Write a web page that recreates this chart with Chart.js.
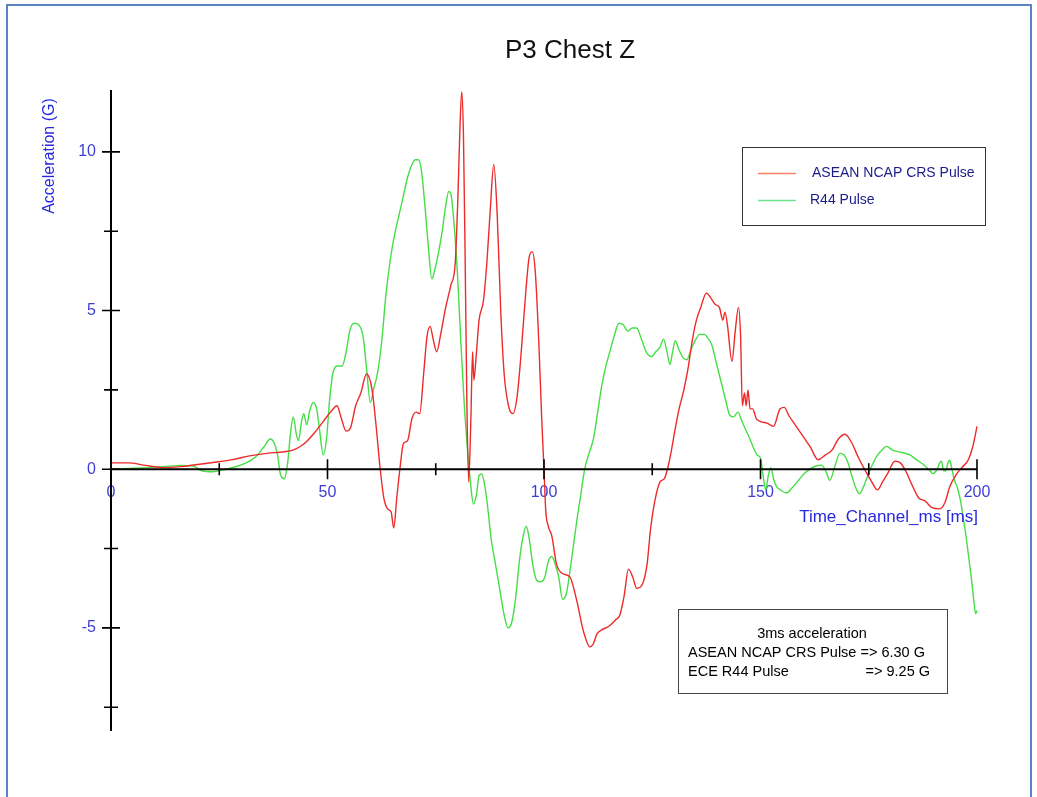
<!DOCTYPE html>
<html>
<head>
<meta charset="utf-8">
<title>P3 Chest Z</title>
<script src="https://cdn.jsdelivr.net/npm/chart.js@4/dist/chart.umd.min.js"></script>
<style>
  html, body { margin: 0; padding: 0; background: #ffffff; }
  canvas { display: block; }
</style>
</head>
<body>
<canvas id="chart" width="1037" height="797"></canvas>
<script>
// ASEAN NCAP CRS pulse, chest Z acceleration (G) against time (ms)
const aseanTime = [0, 4, 8, 12, 16, 20, 24, 28, 32, 36, 40, 42, 43.5, 45, 47, 49, 51, 52.2, 53.2, 54.3,
  55.3, 56.5, 57.7, 59.0, 60.3, 61.2, 62.1, 63.0, 63.9, 64.7, 65.3, 66.0, 66.8, 67.5, 68.5, 69.5,
  70.5, 71.3, 72.2, 73.0, 73.7, 74.4, 75.2, 76.2, 77.3, 78.5, 79.5, 80.1, 80.6, 81.0, 81.4, 81.8,
  82.2, 82.6, 83.1, 83.5, 83.8, 84.3, 85.0, 86.0, 86.8, 87.6, 88.4, 89.2, 90.0, 90.8, 91.8, 92.8,
  93.8, 94.8, 95.8, 96.6, 97.3, 98.0, 98.8, 99.5, 100.0, 100.4, 101.0, 101.8, 102.9, 104.5, 106.0,
  107.5, 109.1, 110.6, 111.4, 112.2, 113.5, 115.0, 116.5, 117.5, 118.5, 119.5, 120.5, 121.4, 122.8,
  123.8, 124.6, 125.6, 126.8, 127.8, 128.5, 129.3, 130.2, 131.2, 132.3, 133.3, 134.3, 135.2, 136.2,
  137.5, 138.5, 139.5, 140.5, 141.3, 141.8, 142.4, 143.4, 144.2, 144.9, 145.4, 145.8, 146.3, 146.7,
  147.1, 147.6, 148.2, 149.0, 150.0, 151.5, 153.0, 154.5, 155.5, 156.5, 158.0, 160.0, 161.5, 163.3,
  165.0, 166.5, 168.0, 169.5, 171.0, 172.5, 174.0, 175.5, 177.0, 178.2, 179.5, 181.0, 182.3, 183.7,
  185.0, 186.5, 188.0, 189.5, 191.4, 192.6, 193.7, 195.3, 196.5, 198.0, 199.0, 200.0];
const aseanAccel = [0.2, 0.2, 0.12, 0.05, 0.08, 0.15, 0.22, 0.3, 0.42, 0.5, 0.55, 0.6, 0.7, 0.85, 1.15, 1.5, 1.85, 2.0, 1.6, 1.2,
  1.3, 2.0, 2.4, 3.0, 2.5, 1.4, 0.1, -0.9, -1.25, -1.35, -1.85, -0.9, 0.1, 0.8, 0.9, 1.6,
  1.8, 1.75, 3.0, 4.2, 4.5, 4.1, 3.7, 4.3, 5.1, 5.8, 6.5, 8.5, 10.8, 11.9, 10.5, 6.5,
  2.0, -0.4, 1.5, 3.7, 2.8, 3.5, 4.7, 5.3, 6.5, 8.2, 9.6, 8.0, 5.0, 3.0, 2.0, 1.75,
  2.3, 3.8, 5.6, 6.7, 6.85, 6.2, 4.0, 1.5, 0.0, -1.3, -1.8, -2.1, -3.0, -3.3, -3.4,
  -4.1, -5.1, -5.6, -5.5, -5.2, -5.05, -4.95, -4.75, -4.6, -4.0, -3.15, -3.4, -3.75, -3.6,
  -3.0, -1.9, -1.0, -0.4, -0.3, 0.0, 0.5, 1.2, 1.9, 2.5, 3.2, 4.1, 4.7, 5.1,
  5.55, 5.4, 5.2, 5.1, 4.7, 4.95, 4.5, 3.4, 4.4, 5.1, 4.2, 2.0, 2.4, 2.0,
  2.5, 1.9, 1.9, 1.6, 1.5, 1.45, 1.35, 1.9, 1.95, 1.7, 1.4, 1.0, 0.7, 0.3,
  0.45, 0.6, 0.95, 1.1, 0.85, 0.4, 0.0, -0.35, -0.65, -0.4, -0.1, 0.25, 0.2, -0.1,
  -0.5, -0.9, -1.0, -1.2, -1.25, -1.05, -0.55, -0.15, 0.05, 0.3, 0.7, 1.35];

// ECE R44 pulse, chest Z acceleration (G) against time (ms)
const r44Time = [0, 4, 8, 12, 16, 19, 21, 23.5, 26, 28.5, 31, 33.5, 35.3, 36.8, 37.6, 38.4, 39.2, 40.0, 40.8, 41.5,
  42.1, 42.8, 43.3, 44.0, 44.5, 45.2, 45.9, 46.7, 47.5, 48.2, 49.0, 49.8, 50.5, 51.2, 52.2, 53.4,
  54.3, 55.2, 56.2, 57.2, 58.2, 59.0, 59.9, 60.6, 61.5, 62.5, 63.5, 64.5, 65.5, 66.5, 67.5, 68.5,
  69.5, 70.3, 71.0, 71.7, 72.5, 73.3, 74.1, 74.8, 75.6, 76.5, 77.3, 78.0, 78.6, 79.3, 80.0, 80.8,
  81.6, 82.4, 83.0, 83.7, 84.4, 85.0, 85.6, 86.3, 87.0, 87.8, 88.8, 89.8, 90.8, 91.7, 92.6, 93.5,
  94.4, 95.2, 95.9, 96.6, 97.4, 98.3, 99.2, 100.2, 101.0, 101.8, 102.6, 103.4, 104.3, 105.2, 106.0,
  106.8, 107.6, 108.5, 109.4, 110.4, 111.4, 112.4, 113.3, 114.2, 115.2, 116.2, 117.3, 118.3, 119.4,
  120.4, 121.4, 122.5, 123.6, 124.8, 125.8, 126.8, 127.6, 128.4, 129.1, 129.7, 130.3, 131.2, 132.2,
  133.0, 133.9, 134.9, 136.0, 137.0, 138.0, 138.8, 139.8, 141.0, 142.0, 142.9, 143.8, 144.8, 145.6,
  146.4, 147.4, 148.3, 149.2, 150.0, 150.6, 151.2, 151.8, 152.4, 153.0, 153.7, 154.6, 156.0, 157.2,
  158.5, 160.0, 161.4, 162.8, 164.1, 165.2, 166.0, 167.2, 168.3, 169.3, 170.2, 171.4, 172.2, 172.9,
  173.8, 174.5, 175.7, 176.8, 178.0, 179.1, 180.5, 182.2, 183.5, 184.5, 186.0, 187.6, 188.8, 189.9,
  190.8, 191.4, 191.8, 192.3, 192.8, 193.3, 193.7, 194.2, 194.8, 195.5, 196.2, 196.9, 197.6, 198.2,
  198.8, 199.3, 199.7, 200.0];
const r44Accel = [0.0, 0.02, 0.05, 0.08, 0.12, 0.1, -0.05, -0.08, -0.02, 0.07, 0.18, 0.4, 0.7, 0.95, 0.85, 0.5, -0.2, -0.3, 0.2, 1.2,
  1.65, 1.1, 0.9, 1.5, 1.75, 1.4, 1.85, 2.1, 1.9, 1.2, 0.45, 1.0, 2.2, 3.0, 3.25, 3.25,
  3.7, 4.4, 4.6, 4.55, 4.2, 3.2, 2.1, 2.5, 3.0, 4.0, 5.5, 6.6, 7.4, 8.0, 8.6, 9.2,
  9.6, 9.75, 9.75, 9.4, 8.3, 7.0, 6.0, 6.3, 6.8, 7.5, 8.3, 8.75, 8.6, 7.6, 6.2, 4.0,
  2.0, 0.5, -0.4, -1.1, -0.8, -0.2, -0.15, -0.5, -1.2, -2.2, -3.0, -3.8, -4.6, -5.0, -4.8, -4.0,
  -2.8, -2.1, -1.8, -2.2, -3.0, -3.5, -3.55, -3.4, -2.9, -2.75, -3.0, -3.4, -4.1, -3.9, -3.2,
  -2.4, -1.6, -0.8, 0.0, 0.5, 0.95, 1.8, 2.6, 3.2, 3.7, 4.2, 4.6, 4.55, 4.35,
  4.45, 4.45, 4.1, 3.7, 3.55, 3.7, 3.85, 4.1, 3.7, 3.3, 3.7, 4.05, 3.75, 3.5,
  3.45, 3.75, 4.05, 4.25, 4.25, 4.1, 3.9, 3.35, 2.7, 2.15, 1.7, 1.65, 1.8, 1.55,
  1.3, 1.0, 0.7, 0.45, 0.35, -0.2, -0.65, -0.2, 0.05, -0.3, -0.55, -0.65, -0.75, -0.6,
  -0.4, -0.15, 0.0, 0.1, 0.13, -0.1, -0.35, 0.1, 0.5, 0.45, 0.2, -0.35, -0.65, -0.77,
  -0.55, -0.3, 0.1, 0.4, 0.6, 0.72, 0.6, 0.54, 0.5, 0.45, 0.3, 0.15, 0.0, -0.14,
  0.0, 0.2, 0.25, -0.05, -0.05, 0.2, 0.28, 0.0, -0.35, -0.6, -1.0, -1.6, -2.25, -2.9,
  -3.55, -4.2, -4.55, -4.45];

const seriesNames = ['ASEAN NCAP CRS Pulse', 'R44 Pulse'];
const xTickValues = [0, 50, 100, 150, 200];
const yTickValues = [-5, 0, 5, 10];
const chartTitle = 'P3 Chest Z';
const xTitle = 'Time_Channel_ms [ms]';
const yTitle = 'Acceleration (G)';
const noteLines = ['3ms acceleration', 'ASEAN NCAP CRS Pulse => 6.30 G', 'ECE R44 Pulse', '=> 9.25 G'];

const toPoints = (xs, ys) => xs.map((x, i) => ({ x: x, y: ys[i] }));

const RED = 'rgb(238,42,42)';
const GREEN = 'rgb(70,222,70)';
const LEGEND_COLORS = ['rgb(250,130,100)', 'rgb(110,225,140)'];
const TICK_BLUE = 'rgb(62,62,214)';
const TITLE_BLUE = 'rgb(40,40,224)';
const FONT = '"Liberation Sans", Arial, sans-serif';

// Frame, axis lines with crossing tick marks, and all text blocks
const decorations = {
  id: 'decorations',
  beforeDraw(chart) {
    const c = chart.ctx;
    c.save();
    c.fillStyle = '#ffffff';
    c.fillRect(0, 0, chart.width, chart.height);
    c.strokeStyle = '#5d84c2';
    c.lineWidth = 2;
    c.beginPath();
    c.moveTo(7, chart.height);
    c.lineTo(7, 5);
    c.lineTo(1031, 5);
    c.lineTo(1031, chart.height);
    c.stroke();
    c.restore();
  },
  afterDatasetsDraw(chart) {
    const c = chart.ctx;
    const xs = chart.scales.x, ys = chart.scales.y;
    const x0 = xs.getPixelForValue(0);
    const y0 = ys.getPixelForValue(0);
    c.save();
    c.strokeStyle = '#000000';
    c.lineWidth = 2;
    c.beginPath();
    c.moveTo(x0, chart.chartArea.top);
    c.lineTo(x0, chart.chartArea.bottom);
    c.moveTo(x0, y0);
    c.lineTo(xs.getPixelForValue(xs.max), y0);
    c.stroke();
    c.lineWidth = 1.6;
    c.beginPath();
    ys.ticks.forEach(t => {
      const p = ys.getPixelForValue(t.value);
      const half = yTickValues.includes(t.value) ? 9 : 7;
      c.moveTo(x0 - half, p);
      c.lineTo(x0 + half, p);
    });
    xs.ticks.forEach(t => {
      if (t.value === 0) return;
      const p = xs.getPixelForValue(t.value);
      const half = xTickValues.includes(t.value) ? 10 : 6;
      c.moveTo(p, y0 - half);
      c.lineTo(p, y0 + half);
    });
    c.stroke();

    // title
    c.fillStyle = '#111111';
    c.font = '26px ' + FONT;
    c.textAlign = 'center';
    c.textBaseline = 'middle';
    c.fillText(chartTitle, 570, 51);

    // axis titles
    c.fillStyle = TITLE_BLUE;
    c.font = '16px ' + FONT;
    c.save();
    c.translate(50, 156);
    c.rotate(-Math.PI / 2);
    c.fillText(yTitle, 0, 0);
    c.restore();
    c.font = '17px ' + FONT;
    c.textAlign = 'right';
    c.fillText(xTitle, 978, 517);

    // legend box
    c.strokeStyle = '#333333';
    c.lineWidth = 1;
    c.strokeRect(742.5, 147.5, 243, 78);
    const ds = chart.data.datasets;
    const legendRows = [173, 200];
    c.font = '14px ' + FONT;
    c.textAlign = 'left';
    c.fillStyle = '#1c1c8a';
    c.lineWidth = 1.3;
    ds.forEach((d, i) => {
      c.strokeStyle = LEGEND_COLORS[i];
      c.beginPath();
      c.moveTo(758, legendRows[i] + 0.5);
      c.lineTo(796, legendRows[i] + 0.5);
      c.stroke();
      c.fillText(d.label, i === 0 ? 812 : 810, legendRows[i]);
    });

    // 3 ms acceleration note
    c.lineWidth = 1;
    c.strokeStyle = '#444444';
    c.strokeRect(678.5, 609.5, 269, 84);
    c.fillStyle = '#000000';
    c.font = '14.5px ' + FONT;
    c.textAlign = 'center';
    c.fillText(noteLines[0], 812, 634);
    c.textAlign = 'left';
    c.fillText(noteLines[1], 688, 653);
    c.fillText(noteLines[2], 688, 672);
    c.textAlign = 'right';
    c.fillText(noteLines[3], 930, 672);
    c.restore();
  }
};

new Chart(document.getElementById('chart'), {
  type: 'line',
  data: {
    datasets: [
      { label: seriesNames[0], data: toPoints(aseanTime, aseanAccel), borderColor: RED },
      { label: seriesNames[1], data: toPoints(r44Time, r44Accel), borderColor: GREEN }
    ]
  },
  options: {
    responsive: false,
    animation: false,
    devicePixelRatio: 1,
    layout: { padding: { left: 51, right: 60, top: 90, bottom: 66 } },
    elements: {
      point: { radius: 0 },
      line: { borderWidth: 1.4, cubicInterpolationMode: 'monotone', fill: false }
    },
    datasets: { line: { clip: false } },
    plugins: { legend: { display: false }, title: { display: false }, tooltip: { enabled: false } },
    scales: {
      x: {
        type: 'linear',
        position: { y: 0 },
        min: 0,
        max: 200,
        grid: { display: false, drawTicks: false },
        border: { display: false },
        ticks: {
          stepSize: 25,
          autoSkip: false,
          maxRotation: 0,
          padding: 14,
          color: TICK_BLUE,
          font: { family: FONT, size: 16 },
          callback: v => (xTickValues.includes(v) ? String(v) : '')
        }
      },
      y: {
        type: 'linear',
        position: 'left',
        min: -8.25,
        max: 11.95,
        afterFit: scale => { scale.width = 60; },
        grid: { display: false, drawTicks: false },
        border: { display: false },
        ticks: {
          stepSize: 2.5,
          includeBounds: false,
          autoSkip: false,
          padding: 15,
          color: TICK_BLUE,
          font: { family: FONT, size: 16 },
          callback: v => (yTickValues.includes(v) ? String(v) : '')
        }
      }
    }
  },
  plugins: [decorations]
});
</script>
</body>
</html>
